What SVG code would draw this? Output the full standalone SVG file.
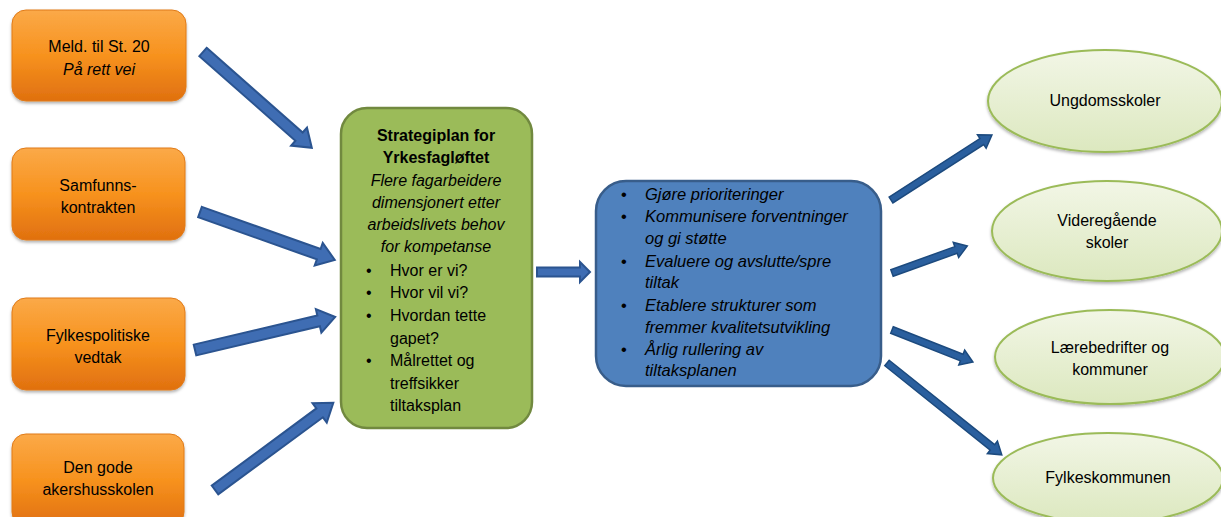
<svg xmlns="http://www.w3.org/2000/svg" width="1221" height="517" viewBox="0 0 1221 517">
<defs>
<linearGradient id="gOrange" x1="0" y1="0" x2="0" y2="1">
<stop offset="0" stop-color="#FBA948"/>
<stop offset="0.5" stop-color="#F7921E"/>
<stop offset="1" stop-color="#E0700F"/>
</linearGradient>
<linearGradient id="gEll" x1="0" y1="0" x2="0" y2="1">
<stop offset="0" stop-color="#F2F6E6"/>
<stop offset="1" stop-color="#DCE8BF"/>
</linearGradient>
<filter id="sh" x="-10%" y="-10%" width="120%" height="130%">
<feDropShadow dx="0" dy="2" stdDeviation="1.5" flood-color="#000" flood-opacity="0.3"/>
</filter>
</defs>
<style>
.box{fill:url(#gOrange);stroke:#E07A18;stroke-width:1;filter:url(#sh)}
.ell{fill:url(#gEll);stroke:#9BBB59;stroke-width:2;filter:url(#sh)}
.t{font-family:"Liberation Sans",Arial,sans-serif;font-size:16px;fill:#000}
.c{text-anchor:middle}
.b{font-weight:bold}
.i{font-style:italic}
.bl{font-size:16.5px}
.la{fill:#3F6DB3;stroke:#2B5490;stroke-width:2}
.ra{fill:#2A5F9E;stroke:#1C4A7E;stroke-width:1.5}
</style>
<g id="connectors">
<path class="la" d="M0,-5.5 H128 V-12 L145,0 L128,12 V5.5 H0 Z" transform="translate(203,52) rotate(41.37)"/>
<path class="la" d="M0,-5.5 H126 V-12 L143,0 L126,12 V5.5 H0 Z" transform="translate(200,212) rotate(19.57)"/>
<path class="la" d="M0,-5.5 H127 V-12 L144,0 L127,12 V5.5 H0 Z" transform="translate(195,350) rotate(-13.26)"/>
<path class="la" d="M0,-5.5 H130 V-12 L147,0 L130,12 V5.5 H0 Z" transform="translate(215,490) rotate(-36.40)"/>
<path class="la" d="M0,-4.5 H43 V-10 L53,0 L43,10 V4.5 H0 Z" transform="translate(537,272)"/>
<path class="ra" d="M0,-3.5 H108 V-8 L120,0 L108,8 V3.5 H0 Z" transform="translate(891,200) rotate(-32.76)"/>
<path class="ra" d="M0,-3.5 H68 V-8 L80,0 L68,8 V3.5 H0 Z" transform="translate(892,273) rotate(-19.80)"/>
<path class="ra" d="M0,-3.5 H75 V-8 L87,0 L75,8 V3.5 H0 Z" transform="translate(892,330) rotate(21.56)"/>
<path class="ra" d="M0,-3.5 H135 V-8 L147,0 L135,8 V3.5 H0 Z" transform="translate(887,363) rotate(38.66)"/>
</g>
<g id="meld">
<rect class="box" x="12" y="10" width="174" height="91" rx="14"/>
<text class="t c" x="99" y="52">Meld. til St. 20</text>
<text class="t c i" x="99" y="75">På rett vei</text>
</g>
<g id="samfunn">
<rect class="box" x="12" y="148" width="173" height="92" rx="14"/>
<text class="t c" x="98" y="191">Samfunns-</text>
<text class="t c" x="98" y="213">kontrakten</text>
</g>
<g id="fylkespol">
<rect class="box" x="12" y="298" width="173" height="92" rx="14"/>
<text class="t c" x="98" y="341">Fylkespolitiske</text>
<text class="t c" x="98" y="363">vedtak</text>
</g>
<g id="akershus">
<rect class="box" x="12" y="434" width="172" height="92" rx="14"/>
<text class="t c" x="98" y="473">Den gode</text>
<text class="t c" x="98" y="495">akershusskolen</text>
</g>
<g id="strategi">
<rect x="341" y="108" width="191" height="320" rx="26" fill="#9BBB59" stroke="#71893F" stroke-width="2.5"/>
<text class="t c b" x="436" y="141">Strategiplan for</text>
<text class="t c b" x="436" y="163">Yrkesfagløftet</text>
<text class="t c i" x="436" y="186">Flere fagarbeidere</text>
<text class="t c i" x="436" y="208">dimensjonert etter</text>
<text class="t c i" x="436" y="230">arbeidslivets behov</text>
<text class="t c i" x="436" y="252">for kompetanse</text>
<text class="t" x="366" y="276">•</text>
<text class="t" x="390" y="276">Hvor er vi?</text>
<text class="t" x="366" y="298">•</text>
<text class="t" x="390" y="298">Hvor vil vi?</text>
<text class="t" x="366" y="321">•</text>
<text class="t" x="390" y="321">Hvordan tette</text>
<text class="t" x="390" y="344">gapet?</text>
<text class="t" x="366" y="366">•</text>
<text class="t" x="390" y="366">Målrettet og</text>
<text class="t" x="390" y="389">treffsikker</text>
<text class="t" x="390" y="411">tiltaksplan</text>
</g>
<g id="tiltak">
<rect x="596" y="181" width="285" height="205" rx="30" fill="#4F81BD" stroke="#385D8A" stroke-width="2.5"/>
<text class="t bl" x="621" y="200">•</text>
<text class="t i bl" x="645" y="200">Gjøre prioriteringer</text>
<text class="t bl" x="621" y="222">•</text>
<text class="t i bl" x="645" y="222">Kommunisere forventninger</text>
<text class="t i bl" x="645" y="244">og gi støtte</text>
<text class="t bl" x="621" y="267">•</text>
<text class="t i bl" x="645" y="267">Evaluere og avslutte/spre</text>
<text class="t i bl" x="645" y="288">tiltak</text>
<text class="t bl" x="621" y="311">•</text>
<text class="t i bl" x="645" y="311">Etablere strukturer som</text>
<text class="t i bl" x="645" y="333">fremmer kvalitetsutvikling</text>
<text class="t bl" x="621" y="355">•</text>
<text class="t i bl" x="645" y="355">Årlig rullering av</text>
<text class="t i bl" x="645" y="376">tiltaksplanen</text>
</g>
<g id="ungdom">
<ellipse class="ell" cx="1105" cy="101" rx="117" ry="51"/>
<text class="t c" x="1105" y="106">Ungdomsskoler</text>
</g>
<g id="vgs">
<ellipse class="ell" cx="1107" cy="231" rx="115" ry="50"/>
<text class="t c" x="1107" y="226">Videregående</text>
<text class="t c" x="1107" y="248">skoler</text>
</g>
<g id="laere">
<ellipse class="ell" cx="1110" cy="357" rx="115" ry="47"/>
<text class="t c" x="1110" y="353">Lærebedrifter og</text>
<text class="t c" x="1110" y="375">kommuner</text>
</g>
<g id="fylkeskommunen">
<ellipse class="ell" cx="1108" cy="478" rx="115" ry="45"/>
<text class="t c" x="1108" y="483">Fylkeskommunen</text>
</g>
</svg>
